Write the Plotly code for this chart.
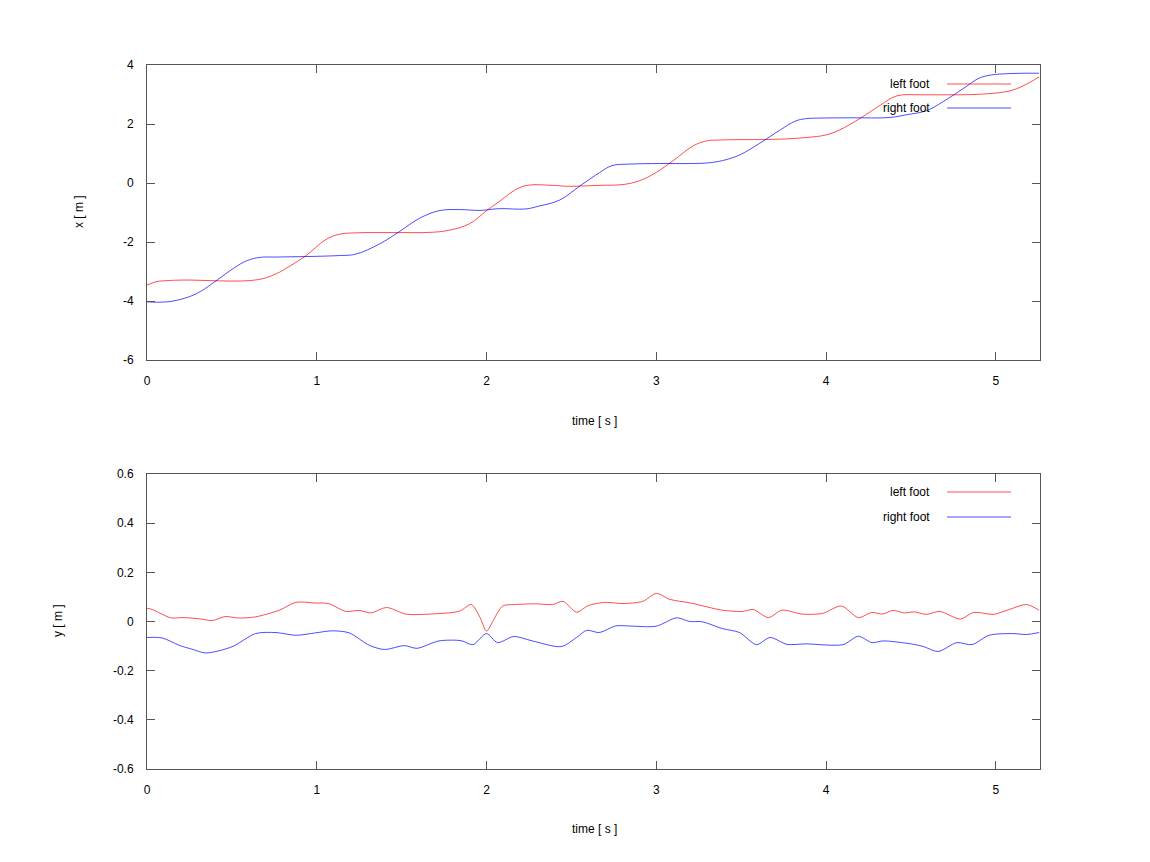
import plotly.graph_objects as go

# ---------------- data ----------------
t_left_x = [0.0, 0.059, 0.118, 0.21, 0.65, 0.767, 0.82, 0.935, 1.05, 1.13, 1.23, 1.45, 1.68, 1.78, 1.90, 2.0, 2.075,
            2.21, 2.39, 2.47, 2.665, 2.82, 2.92, 3.0, 3.10, 3.215, 3.29, 3.39, 3.69, 3.88, 4.0, 4.08,
            4.20, 4.32, 4.415, 4.57, 4.80, 4.96, 5.08, 5.16, 5.255]
left_x = [-3.46, -3.34, -3.31, -3.29, -3.28, -3.06, -2.89, -2.47, -1.93, -1.74, -1.69, -1.68, -1.67, -1.60, -1.38, -0.94, -0.63,
          -0.12, -0.08, -0.11, -0.08, -0.04, 0.12, 0.36, 0.76, 1.25, 1.42, 1.46, 1.48, 1.54, 1.63, 1.80,
          2.19, 2.64, 2.95, 2.99, 2.99, 3.03, 3.12, 3.29, 3.60]

t_right_x = [0.0, 0.118, 0.236, 0.314, 0.413, 0.51, 0.59, 0.668, 0.767, 1.13, 1.23, 1.368, 1.486, 1.604, 1.72,
             1.84, 1.96, 2.075, 2.23, 2.31, 2.43, 2.55, 2.665, 2.74, 2.84, 3.02, 3.20, 3.30, 3.39, 3.49, 3.61,
             3.73, 3.82, 3.88, 3.96, 4.15, 4.375, 4.47, 4.59, 4.69, 4.81, 4.90, 4.96, 5.02, 5.16, 5.255]
right_x = [-4.03, -4.03, -3.88, -3.68, -3.29, -2.89, -2.63, -2.52, -2.51, -2.46, -2.41, -2.07, -1.65, -1.20, -0.94,
           -0.90, -0.93, -0.87, -0.88, -0.78, -0.58, -0.10, 0.35, 0.59, 0.64, 0.66, 0.66, 0.68, 0.76, 0.95, 1.35,
           1.80, 2.10, 2.18, 2.20, 2.21, 2.22, 2.31, 2.45, 2.76, 3.21, 3.55, 3.65, 3.69, 3.72, 3.72]

t_left_y = [0.0, 0.03, 0.14, 0.21, 0.31, 0.385, 0.46, 0.54, 0.64, 0.78, 0.877, 0.995, 1.07, 1.17, 1.25, 1.32,
            1.41, 1.525, 1.66, 1.84, 1.91, 1.96, 2.0, 2.04, 2.095, 2.17, 2.29, 2.39, 2.45, 2.53,
            2.60, 2.70, 2.80, 2.92, 3.0, 3.08, 3.196, 3.39, 3.51, 3.57, 3.66, 3.74, 3.86, 3.98,
            4.09, 4.19, 4.27, 4.33, 4.395, 4.46, 4.52, 4.59, 4.67, 4.79, 4.87, 4.985, 5.08, 5.18, 5.255]
left_y = [0.054, 0.049, 0.015, 0.016, 0.011, 0.004, 0.020, 0.014, 0.019, 0.046, 0.078, 0.075, 0.073, 0.041, 0.045, 0.035,
          0.057, 0.030, 0.030, 0.042, 0.069, 0.019, -0.039, 0.005, 0.063, 0.069, 0.072, 0.069, 0.082, 0.038,
          0.065, 0.078, 0.073, 0.082, 0.114, 0.090, 0.076, 0.046, 0.041, 0.049, 0.016, 0.046, 0.030, 0.033,
          0.063, 0.016, 0.037, 0.030, 0.045, 0.035, 0.039, 0.029, 0.041, 0.010, 0.037, 0.029, 0.049, 0.069, 0.046]

t_right_y = [0.0, 0.09, 0.19, 0.267, 0.346, 0.50, 0.64, 0.76, 0.877, 0.995, 1.09, 1.19, 1.31, 1.40, 1.515, 1.59,
             1.72, 1.85, 1.92, 2.0, 2.065, 2.16, 2.27, 2.44, 2.53, 2.59, 2.665, 2.76, 2.86, 3.0, 3.12,
             3.196, 3.27, 3.39, 3.49, 3.59, 3.67, 3.77, 3.88, 4.10, 4.19, 4.27, 4.335, 4.49, 4.57, 4.66,
             4.77, 4.86, 4.96, 5.10, 5.18, 5.255]
right_y = [-0.065, -0.067, -0.097, -0.113, -0.128, -0.103, -0.049, -0.045, -0.056, -0.046, -0.038, -0.046, -0.097, -0.114, -0.098, -0.109,
           -0.079, -0.078, -0.094, -0.049, -0.086, -0.061, -0.079, -0.102, -0.065, -0.036, -0.045, -0.018, -0.019, -0.019, 0.015,
           0.0, -0.001, -0.029, -0.045, -0.094, -0.065, -0.093, -0.091, -0.094, -0.060, -0.086, -0.079, -0.090, -0.101, -0.122,
           -0.086, -0.094, -0.056, -0.049, -0.053, -0.045]

x_tickvals = [0, 1, 2, 3, 4, 5]
x_ticktext = ["0", "1", "2", "3", "4", "5"]
top_tickvals = [-6, -4, -2, 0, 2, 4]
top_ticktext = ["-6", "-4", "-2", "0", "2", "4"]
bot_tickvals = [-0.6, -0.4, -0.2, 0, 0.2, 0.4, 0.6]
bot_ticktext = ["-0.6", "-0.4", "-0.2", "0", "0.2", "0.4", "0.6"]

series_names = ["left foot", "right foot"]
colors = ["#ff0000", "#0000ff"]

# ---------------- figure ----------------
FONT = "Liberation Sans, Arial, sans-serif"
W, H = 1150, 862
OFF = 8  # page offset of the figure inside the browser window


def px(x):
    return (x - OFF) / W


def py(y):
    return 1 - (y - OFF) / H


fig = go.Figure()
top_line = dict(shape="spline", smoothing=1.1, width=0.7)
bot_line = dict(shape="spline", smoothing=0.8, width=0.7)
fig.add_trace(go.Scatter(x=t_left_x, y=left_x, mode="lines", name=series_names[0],
                         line=dict(color=colors[0], **top_line), xaxis="x", yaxis="y"))
fig.add_trace(go.Scatter(x=t_right_x, y=right_x, mode="lines", name=series_names[1],
                         line=dict(color=colors[1], **top_line), xaxis="x", yaxis="y"))
fig.add_trace(go.Scatter(x=t_left_y, y=left_y, mode="lines", name=series_names[0],
                         line=dict(color=colors[0], **bot_line), xaxis="x2", yaxis="y2"))
fig.add_trace(go.Scatter(x=t_right_y, y=right_y, mode="lines", name=series_names[1],
                         line=dict(color=colors[1], **bot_line), xaxis="x2", yaxis="y2"))

xdom = [px(147), px(1040)]
top_dom = [py(360), py(65)]
bot_dom = [py(769), py(474)]

axis_common = dict(showline=True, linecolor="#555555", linewidth=1, mirror="ticks",
                   ticks="inside", ticklen=8, tickcolor="#555555", tickwidth=1,
                   showgrid=False, zeroline=False, automargin=False,
                   tickfont=dict(family=FONT, size=12, color="#000000"))

fig.update_layout(
    width=W, height=H,
    margin=dict(l=0, r=0, t=0, b=0, pad=0, autoexpand=False),
    paper_bgcolor="white", plot_bgcolor="white",
    showlegend=False,
    xaxis=dict(domain=xdom, range=[0, 5.26], anchor="y", tickvals=x_tickvals, ticktext=x_ticktext,
               ticklabelstandoff=10, **axis_common),
    yaxis=dict(domain=top_dom, range=[-6, 4], anchor="x", tickvals=top_tickvals, ticktext=top_ticktext,
               ticklabelstandoff=10, **axis_common),
    xaxis2=dict(domain=xdom, range=[0, 5.26], anchor="y2", tickvals=x_tickvals, ticktext=x_ticktext,
                ticklabelstandoff=10, **axis_common),
    yaxis2=dict(domain=bot_dom, range=[-0.6, 0.6], anchor="x2", tickvals=bot_tickvals, ticktext=bot_ticktext,
                ticklabelstandoff=10, **axis_common),
)

ann_font = dict(family=FONT, size=12, color="#000000")
base = dict(xref="paper", yref="paper", showarrow=False, font=ann_font, xanchor="center", yanchor="middle")
annotations = [
    dict(text="time [ s ]", x=px(594), y=py(421), **base),
    dict(text="time [ s ]", x=px(594), y=py(829), **base),
    dict(text="x [ m ]", x=px(79), y=py(212), textangle=-90, **base),
    dict(text="y [ m ]", x=px(58), y=py(621), textangle=-90, **base),
]
shapes = []
legend_rows = [(84, 108), (492, 517)]
for rows in legend_rows:
    for name, col, yy in zip(series_names, colors, rows):
        a = dict(base)
        a["xanchor"] = "right"
        annotations.append(dict(text=name, x=px(932), y=py(yy), **a))
        shapes.append(dict(type="line", xref="paper", yref="paper", x0=px(947), x1=px(1011),
                           y0=py(yy), y1=py(yy), line=dict(color=col, width=0.7)))
fig.update_layout(annotations=annotations, shapes=shapes)

fig.write_html("out.html")
